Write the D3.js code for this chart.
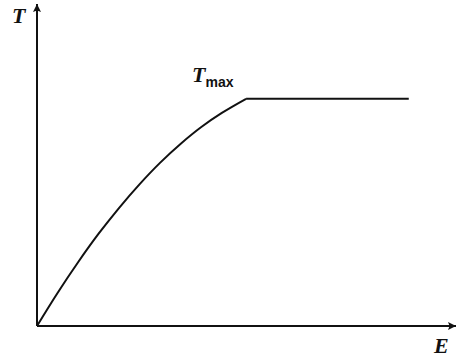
<!DOCTYPE html>
<html>
<head>
<meta charset="utf-8">
<script src="https://cdn.jsdelivr.net/npm/d3@7"></script>
<style>
  html, body { margin: 0; padding: 0; background: #fff; }
  svg { display: block; }
</style>
</head>
<body>
<svg id="chart" width="459" height="361"></svg>
<script>
// Energy (E) values along the curve and the matching T values
const energy = [0, 0.5, 1.0, 1.5, 2.0, 2.5, 3.0, 3.5, 4.0, 4.5, 5.09, 9.05];
const tValues = [0, 1.03, 1.99, 2.88, 3.69, 4.43, 5.10, 5.69, 6.21, 6.65, 7.09, 7.09];
// Axis extents (data units) and labels
const eDomain = [0, 10.2];
const tDomain = [0, 10.05];
const axisLabels = { x: "E", y: "T" };
const peakLabel = { main: "T", sub: "max" };
const peakIndex = 10;

const svg = d3.select("#chart");
const x = d3.scaleLinear().domain(eDomain).range([37, 456]);
const y = d3.scaleLinear().domain(tDomain).range([326, 4]);

const ink = "#111";

// arrowhead marker
svg.append("defs").append("marker")
  .attr("id", "arrow")
  .attr("viewBox", "0 0 10 10")
  .attr("refX", 10).attr("refY", 5)
  .attr("markerUnits", "userSpaceOnUse")
  .attr("markerWidth", 11).attr("markerHeight", 8)
  .attr("orient", "auto")
  .append("path")
  .attr("d", "M0,0 L10,5 L0,10 L2,5 Z")
  .attr("fill", ink);

// axes
svg.append("line")
  .attr("x1", x(0)).attr("y1", y(0))
  .attr("x2", x(eDomain[1])).attr("y2", y(0))
  .attr("stroke", ink).attr("stroke-width", 2)
  .attr("marker-end", "url(#arrow)");
svg.append("line")
  .attr("x1", x(0)).attr("y1", y(0))
  .attr("x2", x(0)).attr("y2", y(tDomain[1]))
  .attr("stroke", ink).attr("stroke-width", 2)
  .attr("marker-end", "url(#arrow)");

// T(E) curve: smooth rise up to the peak, then flat
const pts = energy.map((e, i) => [e, tValues[i]]);
const rising = pts.slice(0, peakIndex + 1);
const flat = pts.slice(peakIndex);
const curve = d3.line().x(d => x(d[0])).y(d => y(d[1])).curve(d3.curveCatmullRom);
const straight = d3.line().x(d => x(d[0])).y(d => y(d[1]));
svg.append("path").attr("d", curve(rising))
  .attr("fill", "none").attr("stroke", ink).attr("stroke-width", 2)
  .attr("stroke-linejoin", "round");
svg.append("path").attr("d", straight(flat))
  .attr("fill", "none").attr("stroke", ink).attr("stroke-width", 2);

// axis labels
const serif = "'Liberation Serif', 'DejaVu Serif', serif";
svg.append("text")
  .attr("x", 12).attr("y", 23)
  .attr("font-family", serif).attr("font-style", "italic").attr("font-weight", "bold")
  .attr("font-size", 22).attr("fill", ink)
  .text(axisLabels.y);
svg.append("text")
  .attr("x", 434).attr("y", 353)
  .attr("font-family", serif).attr("font-style", "italic").attr("font-weight", "bold")
  .attr("font-size", 22).attr("fill", ink)
  .text(axisLabels.x);

// peak label
const pk = svg.append("text")
  .attr("x", x(energy[peakIndex]) - 54).attr("y", y(tValues[peakIndex]) - 17)
  .attr("fill", ink);
pk.append("tspan")
  .attr("font-family", serif).attr("font-style", "italic").attr("font-weight", "bold")
  .attr("font-size", 22)
  .text(peakLabel.main);
pk.append("tspan")
  .attr("font-family", "'Liberation Sans', Arial, sans-serif").attr("font-weight", "bold")
  .attr("font-size", 14).attr("dx", 0).attr("dy", 5)
  .text(peakLabel.sub);
</script>
</body>
</html>
